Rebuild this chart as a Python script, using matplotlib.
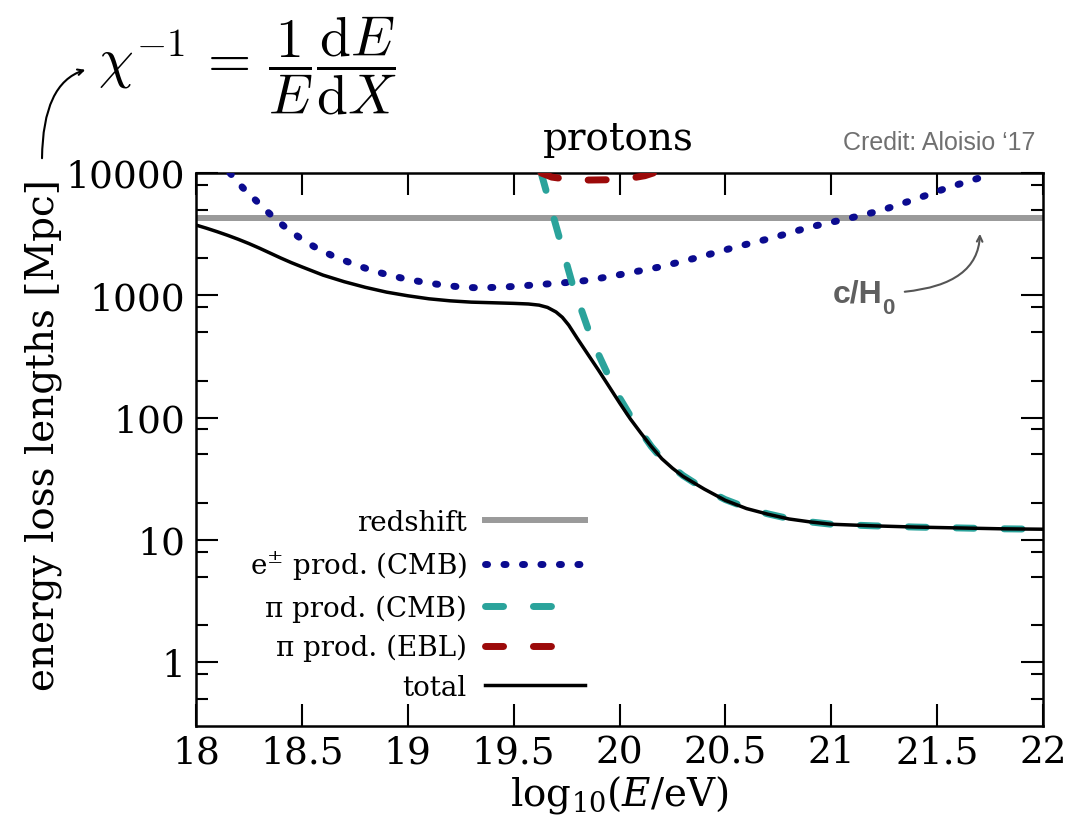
import numpy as np
import matplotlib.pyplot as plt
from matplotlib.ticker import FixedLocator, FixedFormatter, FormatStrFormatter

# energy loss lengths of UHE protons [Mpc] vs log10(E/eV)
redshift_len = 4300.0

epm_logE = [18.16, 18.22, 18.29, 18.35, 18.42, 18.49, 18.56, 18.64, 18.73, 18.81,
            18.89, 18.98, 19.07, 19.16, 19.25, 19.33, 19.42, 19.50, 19.59, 19.68,
            19.78, 19.86, 20.02, 20.19, 20.38, 20.55, 20.72, 20.90, 21.07, 21.23,
            21.40, 21.56, 21.73, 21.76]
epm_len = [10000, 7600, 5790, 4600, 3615, 2950, 2484, 2120, 1837, 1640,
           1493, 1370, 1282, 1215, 1167, 1150, 1160, 1180, 1211, 1245,
           1282, 1331, 1493, 1703, 2056, 2484, 2940, 3615, 4204, 4900,
           6130, 7680, 9450, 10000]

pi_cmb_logE = [19.63, 19.66, 19.70, 19.74, 19.78, 19.82, 19.86, 19.90, 19.95, 20.00,
               20.05, 20.10, 20.15, 20.20, 20.30, 20.40, 20.50, 20.60, 20.70, 20.80,
               20.90, 21.00, 21.20, 21.40, 21.60, 21.80, 22.00]
pi_cmb_len = [10000, 6500, 3700, 2100, 1190, 760, 480, 330, 215, 145,
              104, 77, 58, 46, 33.5, 26, 21.3, 18.3, 16.3, 14.9,
              14.0, 13.4, 13.0, 12.7, 12.5, 12.3, 12.2]

pi_ebl_logE = [19.63, 19.68, 19.75, 19.85, 19.95, 20.05, 20.12, 20.16]
pi_ebl_len = [10000, 9250, 8900, 8750, 8800, 9050, 9500, 10000]

total_logE = [18.00, 18.05, 18.10, 18.15, 18.20, 18.25, 18.30, 18.35, 18.40, 18.45,
              18.50, 18.60, 18.70, 18.80, 18.90, 19.00, 19.10, 19.20, 19.30, 19.40,
              19.50, 19.57, 19.62, 19.66, 19.70, 19.73, 19.76, 19.80, 19.85, 19.90,
              19.95, 20.00, 20.05, 20.10, 20.15, 20.20, 20.25, 20.30, 20.40, 20.50,
              20.60, 20.70, 20.80, 20.90, 21.00, 21.20, 21.40, 21.60, 21.80, 22.00]
total_len = [3750, 3530, 3308, 3087, 2866, 2645, 2424, 2211, 2016, 1848,
             1706, 1460, 1290, 1160, 1060, 990, 935, 900, 878, 868,
             858, 848, 830, 795, 730, 660, 570, 445, 330, 245,
             180, 132, 98, 75, 58, 46, 38.5, 33, 26, 21,
             18, 16.2, 14.8, 14.0, 13.4, 13.0, 12.7, 12.5, 12.3, 12.2]

x_ticks = [18, 18.5, 19, 19.5, 20, 20.5, 21, 21.5, 22]
y_ticks = [1, 10, 100, 1000, 10000]
y_labels = ['1', '10', '100', '1000', '10000']

plt.rcParams['font.family'] = ['DejaVu Serif']
plt.rcParams['mathtext.fontset'] = 'dejavuserif'

fig = plt.figure(figsize=(10.86, 8.28), dpi=100)
ax = fig.add_axes([0.1805, 0.1220, 0.7799, 0.6679])

ax.axhline(redshift_len, color='#9a9a9a', lw=4.3, label='redshift', zorder=2)
ax.plot(epm_logE, epm_len, color='#0b0b8f', lw=5, ls=(0, (0.3, 2.36)),
        dash_capstyle='round', label=r'e$^{\pm}$ prod. (CMB)', zorder=3)
ax.plot(pi_cmb_logE, pi_cmb_len, color='#2aa39b', lw=5, ls=(0, (2.6, 4.3)),
        dash_capstyle='round', label='π prod. (CMB)', zorder=3)
ax.plot(pi_ebl_logE, pi_ebl_len, color='#9c0a0a', lw=5, ls=(0, (2.6, 4.3)),
        dash_capstyle='round', label='π prod. (EBL)', zorder=3)
ax.plot(total_logE, total_len, color='black', lw=2.5, label='total', zorder=4)

ax.set_yscale('log')
ax.set_xlim(18, 22)
ax.set_ylim(0.3, 10000)

ax.xaxis.set_major_locator(FixedLocator(x_ticks))
ax.xaxis.set_major_formatter(FormatStrFormatter('%g'))
ax.yaxis.set_major_locator(FixedLocator(y_ticks))
ax.yaxis.set_major_formatter(FixedFormatter(y_labels))
minor = [m * 10.0 ** k for k in range(-1, 4) for m in (2, 5, 8)]
ax.yaxis.set_minor_locator(FixedLocator(minor))
ax.yaxis.set_minor_formatter(FixedFormatter([''] * len(minor)))
ax.xaxis.set_minor_locator(FixedLocator([]))

ax.tick_params(which='both', direction='in', top=True, right=True, width=1.5)
ax.tick_params(which='major', length=16, labelsize=27)
ax.tick_params(which='minor', length=8.5)
ax.tick_params(axis='y', pad=8)
ax.tick_params(axis='x', pad=6)
for s in ax.spines.values():
    s.set_linewidth(1.8)

ax.set_ylabel('energy loss lengths [Mpc]', fontsize=28)
ax.yaxis.set_label_coords(-0.158, 0.528)
ax.set_xlabel(r'log$_{10}$($E$/eV)', fontsize=28)
ax.xaxis.set_label_coords(0.5, -0.085)

leg = ax.legend(loc='lower right',
                bbox_to_anchor=((585 - 196) / 847, (727 - 702) / 553),
                frameon=False, markerfirst=False, fontsize=20, handlelength=3.6,
                handletextpad=0.65, labelspacing=0.45, borderpad=0, borderaxespad=0)
# two dashes per sample in the key
for h in leg.get_lines()[2:4]:
    h.set_linestyle((0, (2.6, 4.3, 2.6, 12)))

# labels and arrows around the frame
fig.text(618, 828 - 150, 'protons', fontsize=28, ha='center', va='baseline',
         transform=None)
fig.text(1035, 828 - 150, 'Credit: Aloisio \u201817', fontsize=18, ha='right',
         va='baseline', color='#707070', family='Liberation Sans', transform=None)
fig.text(882, 828 - 303, 'c/H', fontsize=23, ha='right', va='baseline',
         color='#5f5f5f', family='Liberation Sans', weight='bold', transform=None)
fig.text(882, 828 - 314, '0', fontsize=16, ha='left', va='baseline',
         color='#5f5f5f', family='Liberation Sans', weight='bold', transform=None)
ax.annotate('', xy=(980, 828 - 232), xycoords='figure pixels',
            xytext=(902, 828 - 293), textcoords='figure pixels',
            arrowprops=dict(arrowstyle='->', color='#555555', lw=1.5,
                            connectionstyle='angle3,angleA=5,angleB=90'))

fig.text(98, 828 - 66,
         r'$\chi^{-1}\,=\,\dfrac{1}{E}\dfrac{\mathrm{d}E}{\mathrm{d}X}$',
         fontsize=40, ha='left', va='center', math_fontfamily='cm', transform=None)
ax.annotate('', xy=(88, 828 - 70), xycoords='figure pixels',
            xytext=(42, 828 - 162), textcoords='figure pixels',
            arrowprops=dict(arrowstyle='->', color='black', lw=1.5,
                            connectionstyle='angle3,angleA=90,angleB=15'))

fig.savefig('out.png', dpi=100)
